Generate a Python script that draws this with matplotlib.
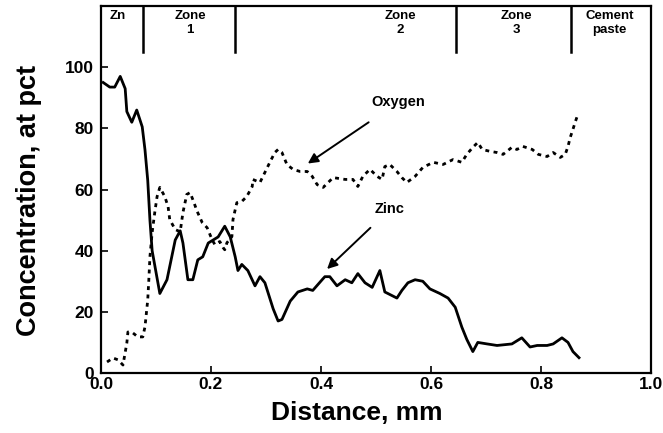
import matplotlib
matplotlib.use("Agg")
from matplotlib import pyplot as plt

plt.rcParams['font.family'] = ['Liberation Sans', 'DejaVu Sans']
plt.rcParams['font.weight'] = 'bold'

# zinc profile (solid)
zinc_x = [0.004, 0.016, 0.025, 0.035, 0.044, 0.047, 0.056, 0.065, 0.075, 0.080, 0.085, 0.089,
          0.093, 0.107, 0.120, 0.135, 0.144, 0.149, 0.158, 0.167, 0.176, 0.185, 0.195, 0.204,
          0.213, 0.225, 0.235, 0.244, 0.249, 0.256, 0.267, 0.280, 0.289, 0.298, 0.313, 0.322,
          0.329, 0.344, 0.358, 0.375, 0.385, 0.402, 0.407, 0.416, 0.429, 0.444, 0.456, 0.467,
          0.480, 0.493, 0.507, 0.516, 0.538, 0.547, 0.558, 0.571, 0.585, 0.598, 0.616, 0.631,
          0.644, 0.656, 0.665, 0.676, 0.685, 0.702, 0.720, 0.747, 0.765, 0.780, 0.793, 0.811,
          0.822, 0.838, 0.849, 0.858, 0.869]
zinc_y = [95, 93.5, 93.5, 97, 93, 85.5, 82, 86, 80.5, 73, 63, 50,
          40, 26, 30.5, 43.5, 46.5, 42.5, 30.5, 30.5, 37, 38, 42.5, 43.5,
          44.5, 48, 44.5, 38, 33.5, 35.5, 33.5, 28.5, 31.5, 29.5, 21, 17,
          17.5, 23.5, 26.5, 27.5, 27, 30.5, 31.5, 31.5, 28.5, 30.5, 29.5, 32.5,
          29.5, 28, 33.5, 26.5, 24.5, 27, 29.5, 30.5, 30, 27.5, 26, 24.5,
          21.5, 15, 11, 7, 10, 9.5, 9, 9.5, 11.5, 8.5, 9, 9,
          9.5, 11.5, 10, 7, 5]

# oxygen profile (dotted)
oxy_x = [0.011, 0.022, 0.031, 0.040, 0.047, 0.049, 0.058, 0.067, 0.076, 0.080, 0.085, 0.087,
         0.089, 0.093, 0.098, 0.102, 0.107, 0.116, 0.122, 0.125, 0.135, 0.144, 0.149, 0.156,
         0.162, 0.167, 0.175, 0.184, 0.193, 0.202, 0.207, 0.216, 0.222, 0.225, 0.229, 0.238,
         0.240, 0.244, 0.247, 0.256, 0.265, 0.275, 0.276, 0.289, 0.298, 0.307, 0.316, 0.322,
         0.329, 0.338, 0.349, 0.362, 0.375, 0.384, 0.393, 0.404, 0.413, 0.422, 0.444, 0.458,
         0.467, 0.476, 0.489, 0.502, 0.511, 0.516, 0.525, 0.538, 0.547, 0.556, 0.571, 0.585,
         0.604, 0.622, 0.640, 0.656, 0.665, 0.676, 0.685, 0.693, 0.707, 0.720, 0.731, 0.747,
         0.756, 0.767, 0.784, 0.795, 0.811, 0.822, 0.835, 0.844, 0.849, 0.853, 0.858, 0.862,
         0.867]
oxy_y = [3.6, 4.9, 4.3, 2.6, 9.8, 13.4, 13.1, 11.8, 11.8, 15.1, 23.9, 30.5,
         38.0, 45.9, 52.8, 57.7, 60.7, 57.7, 54.4, 50.2, 46.9, 46.2, 52.5, 58.4,
         59.0, 56.7, 52.8, 49.2, 47.5, 43.6, 42.0, 43.0, 41.0, 40.3, 42.6, 44.6,
         50.2, 53.4, 55.7, 56.1, 57.7, 61.0, 63.3, 62.3, 65.6, 68.9, 72.1, 73.1,
         72.1, 68.2, 66.6, 65.9, 65.9, 64.3, 61.6, 60.7, 62.3, 63.9, 63.3, 63.3,
         61.0, 64.3, 66.6, 64.3, 63.3, 67.5, 68.2, 65.9, 63.9, 62.3, 64.3, 67.2,
         68.9, 68.2, 69.8, 68.9, 71.5, 73.8, 75.4, 73.1, 72.5, 72.1, 71.5, 73.8,
         73.1, 74.1, 73.1, 71.5, 70.8, 72.1, 70.5, 71.5, 74.1, 77.0, 79.7, 82.0,
         84.6]

zone_edges = [0.076, 0.244, 0.645, 0.855]
zone_labels = ["Zn", "Zone\n1", "Zone\n2", "Zone\n3", "Cement\npaste"]
zone_label_x = [0.031, 0.162, 0.544, 0.756, 0.925]

fig = plt.figure(figsize=(6.63, 4.33), dpi=100)
ax = fig.add_axes([0.1523, 0.1386, 0.8297, 0.8474])

ax.plot(zinc_x, zinc_y, color='black', lw=2.0)
ax.plot(oxy_x, oxy_y, color='black', lw=2.0, linestyle=(0, (1.4, 1.6)))

for xe in zone_edges:
    ax.plot([xe, xe], [105, 120], color='black', lw=1.8)
for lab, xl in zip(zone_labels, zone_label_x):
    ax.text(xl, 118.8, lab, ha='center', va='top', fontsize=9.5, fontweight='bold', linespacing=1.25)

ax.annotate("Oxygen", xy=(0.376, 68.5), xytext=(0.54, 88.5), fontsize=10.5, fontweight='bold',
            ha='center', va='center',
            arrowprops=dict(arrowstyle='-|>', color='black', lw=1.4, shrinkA=13, shrinkB=0,
                            mutation_scale=15))
ax.annotate("Zinc", xy=(0.411, 34), xytext=(0.525, 53.5), fontsize=10.5, fontweight='bold',
            ha='center', va='center',
            arrowprops=dict(arrowstyle='-|>', color='black', lw=1.4, shrinkA=9, shrinkB=0,
                            mutation_scale=15))

ax.set_xlim(0, 1.0)
ax.set_ylim(0, 120)
ax.set_xticks([0.0, 0.2, 0.4, 0.6, 0.8, 1.0])
ax.set_xticklabels(["0.0", "0.2", "0.4", "0.6", "0.8", "1.0"])
ax.set_yticks([0, 20, 40, 60, 80, 100])
ax.tick_params(direction='in', length=5, width=1.2, labelsize=12.5)
ax.tick_params(axis='x', pad=3)
ax.tick_params(axis='y', pad=5)
for lab in ax.get_xticklabels() + ax.get_yticklabels():
    lab.set_fontweight('bold')
for s in ax.spines.values():
    s.set_linewidth(1.6)

ax.set_xlabel("Distance, mm", fontsize=19, fontweight='bold')
ax.set_ylabel("Concentration, at pct", fontsize=19.5, fontweight='bold')
ax.xaxis.set_label_coords(0.465, -0.075)
ax.yaxis.set_label_coords(-0.108, 0.47)

fig.savefig("out.png", dpi=100)
